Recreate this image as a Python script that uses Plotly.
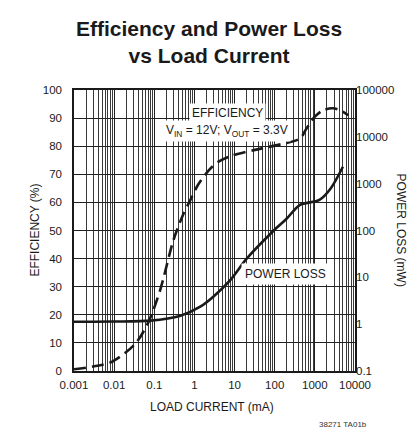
import numpy as np
import plotly.graph_objects as go

# ---- data ----
eff_current = [0.001, 0.003, 0.008, 0.019, 0.037, 0.072, 0.14, 0.3, 0.5, 0.8, 1.2, 2.3, 4, 8,
               30, 100, 300, 450, 600, 1000, 1600, 2800, 4500, 6800]
efficiency = [0.6, 1.6, 3.0, 6.5, 10.4, 17.5, 28.8, 46.6, 55, 61, 66, 71.5, 74.5, 76.5,
              78.6, 80.2, 81.8, 83, 86, 90.5, 92.8, 93.5, 92.6, 91]

loss_current = [0.001, 0.01, 0.08, 0.45, 1.4, 3.0, 7.9, 20, 95, 200, 420, 1300, 2500, 5000]
power_loss = [1.13, 1.14, 1.19, 1.52, 2.36, 3.9, 8.8, 25, 100, 180, 350, 450, 800, 2300]

x_tick_vals = [0.001, 0.01, 0.1, 1, 10, 100, 1000, 10000]
x_tick_text = ["0.001", "0.01", "0.1", "1", "10", "100", "1000", "10000"]
y_tick_vals = [0, 10, 20, 30, 40, 50, 60, 70, 80, 90, 100]
y2_tick_vals = [0.1, 1, 10, 100, 1000, 10000, 100000]
y2_tick_text = ["0.1", "1", "10", "100", "1000", "10000", "100000"]
x_minor_vals = [m * d for d in x_tick_vals[:-1] for m in range(2, 10)]

FONT = "Liberation Sans Narrow, Arial Narrow, Liberation Sans, Arial, sans-serif"
INK = "#1a1a1a"

# the page body has an 8px margin, so the figure is drawn 8px smaller
W, H = 412, 421

fig = go.Figure()
fig.add_trace(go.Scatter(x=eff_current, y=efficiency, mode="lines",
                         line=dict(color=INK, width=2.6, dash="12px,6px", shape="spline", smoothing=0.8),
                         hoverinfo="skip", showlegend=False))
fig.add_trace(go.Scatter(x=loss_current, y=power_loss, mode="lines", yaxis="y2",
                         line=dict(color=INK, width=2.6, shape="spline", smoothing=0.8),
                         hoverinfo="skip", showlegend=False))

tick_font = dict(family=FONT, size=11.5, color=INK)
fig.update_layout(
    width=W, height=H,
    margin=dict(l=66, r=65, t=82, b=58),
    paper_bgcolor="white", plot_bgcolor="white",
    font=dict(family=FONT, size=12, color=INK),
    xaxis=dict(type="log", range=[-3, 4], tickvals=x_tick_vals, ticktext=x_tick_text,
               showgrid=True, gridcolor="#222", gridwidth=1,
               minor=dict(tickvals=x_minor_vals, showgrid=True, gridcolor="#3a3a3a", gridwidth=1, ticks=""),
               showline=True, linecolor=INK, linewidth=1.5, mirror=True,
               ticks="", ticklabelstandoff=2, zeroline=False, tickfont=tick_font),
    yaxis=dict(range=[0, 100], tickvals=y_tick_vals, showgrid=True, gridcolor="#222", gridwidth=1,
               showline=True, linecolor=INK, linewidth=1.5, mirror=True, zeroline=False,
               ticks="", ticklabelstandoff=8, tickfont=tick_font),
    yaxis2=dict(type="log", range=[-1, 5], overlaying="y", side="right",
                tickvals=y2_tick_vals, ticktext=y2_tick_text, showgrid=False,
                ticks="", ticklabelstandoff=0, zeroline=False, tickfont=tick_font),
)

ann_font = dict(family=FONT, size=12, color=INK)


def label(text, x, y, **kw):
    fig.add_annotation(text=text, xref="paper", yref="paper", x=x, y=y,
                       xanchor="center", yanchor="middle", showarrow=False, **kw)


label("<b>Efficiency and Power Loss<br>vs Load Current</b>", 0.481, 1.171,
      font=dict(family=FONT, size=21, color=INK))
label("EFFICIENCY", 0.548, 0.918, bgcolor="white", borderpad=2, font=ann_font)
label("V<sub>IN</sub> = 12V; V<sub>OUT</sub> = 3.3V", 0.546, 0.855,
      bgcolor="white", borderpad=2, font=ann_font)
label("POWER LOSS", 0.753, 0.345, bgcolor="white", borderpad=3, font=ann_font)
label("EFFICIENCY (%)", -0.142, 0.5, textangle=-90, font=ann_font)
label("POWER LOSS (mW)", 1.167, 0.5, textangle=90, font=ann_font)
label("LOAD CURRENT (mA)", 0.491, -0.128, font=ann_font)
label("38271 TA01b", 0.957, -0.192, font=dict(family=FONT, size=8, color="#333"))

fig.write_html("out.html")
